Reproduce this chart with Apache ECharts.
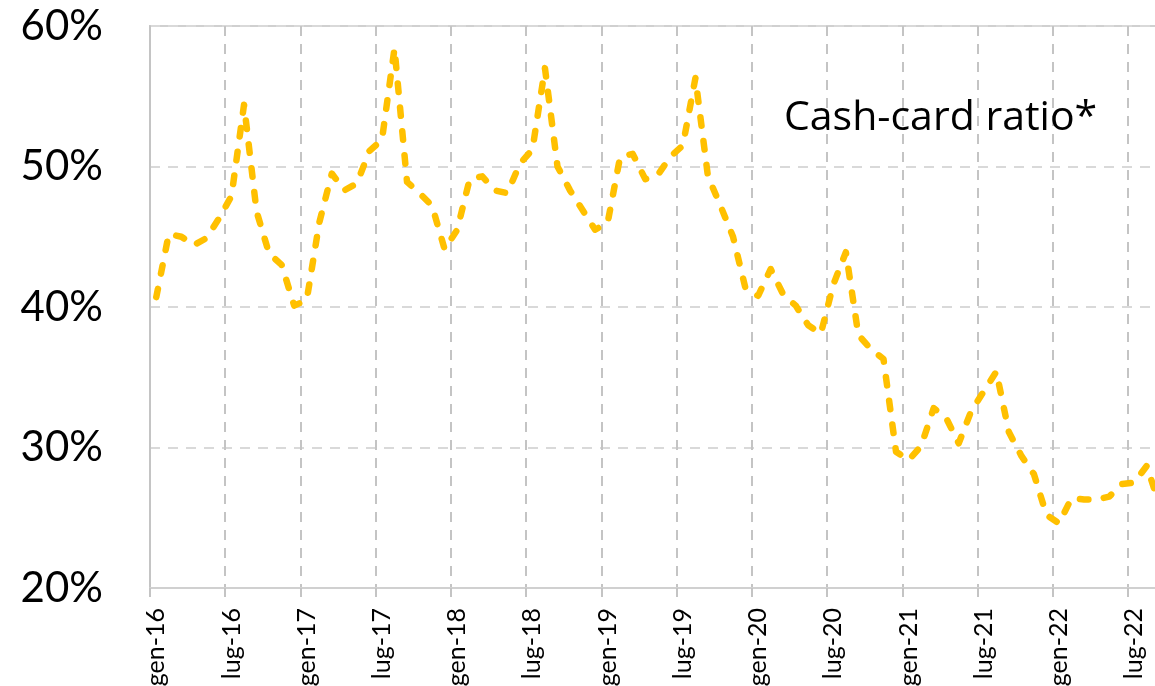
<!DOCTYPE html>
<html>
<head>
<meta charset="utf-8">
<script src="https://cdn.jsdelivr.net/npm/echarts@6/dist/echarts.min.js"></script>
<style>
html,body{margin:0;padding:0;background:#fff;overflow:hidden;}
#chart{width:1155px;height:686px;}
</style>
</head>
<body>
<div id="chart"></div>
<script>
// Monthly categories gen-16 .. set-22 (Italian month abbreviations)
const months = ['gen','feb','mar','apr','mag','giu','lug','ago','set','ott','nov','dic'];
const years = ['16','17','18','19','20','21','22'];
const categories = [];
for (const y of years) for (const m of months) categories.push(m + '-' + y);
categories.length = 81; // through set-22

// Cash-card ratio (%)
const ratio2016 = [40.7, 45.2, 45.0, 44.4, 44.9, 46.3, 47.9, 54.4, 46.8, 43.8, 43.0, 40.1];
const ratio2017 = [40.5, 46.0, 49.5, 48.3, 48.8, 51.1, 51.9, 58.4, 48.9, 48.1, 47.2, 44.1];
const ratio2018 = [45.5, 49.1, 49.3, 48.3, 48.1, 50.2, 51.2, 57.0, 50.0, 48.3, 46.9, 45.5];
const ratio2019 = [46.0, 50.7, 50.9, 49.1, 49.4, 50.7, 51.5, 56.3, 49.3, 47.2, 45.0, 41.3];
const ratio2020 = [40.8, 42.7, 40.9, 40.1, 38.7, 38.1, 41.6, 43.9, 38.0, 37.0, 36.3, 29.7];
const ratio2021 = [29.1, 30.1, 32.8, 32.1, 30.3, 32.6, 34.0, 35.4, 31.1, 29.4, 28.1, 25.2];
const ratio2022 = [24.6, 26.4, 26.3, 26.3, 26.5, 27.4, 27.5, 28.7, 25.9];
const ratio = [].concat(ratio2016, ratio2017, ratio2018, ratio2019, ratio2020, ratio2021, ratio2022);

const yTicks = { min: 20, max: 60, interval: 10 };
const titleText = 'Cash-card ratio*';

const chart = echarts.init(document.getElementById('chart'), null, { renderer: 'canvas' });
chart.setOption({
  animation: false,
  backgroundColor: '#ffffff',
  title: {
    text: titleText,
    left: 779,
    top: 93,
    textStyle: { fontFamily: 'Open Sans', fontSize: 41, fontWeight: 'normal', color: '#000000' }
  },
  grid: {
    left: 150, top: 26, bottom: 98, width: 1015.6,
    outerBoundsMode: 'none', containLabel: false,
    show: true, borderColor: '#d0d0d0', borderWidth: 2, backgroundColor: 'transparent'
  },
  xAxis: {
    type: 'category',
    data: categories,
    boundaryGap: true,
    axisLine: { show: true, lineStyle: { color: '#d0d0d0', width: 2 } },
    axisTick: { show: true, interval: 5, length: 9, lineStyle: { color: '#c4c4c4', width: 2 } },
    axisLabel: {
      interval: 5, rotate: 90, margin: 20,
      fontFamily: 'Lato', fontSize: 25, color: '#000000'
    },
    splitLine: { show: true, interval: 5, lineStyle: { color: '#c4c4c4', width: 2, type: [10, 8] } }
  },
  yAxis: {
    type: 'value',
    min: yTicks.min, max: yTicks.max, interval: yTicks.interval,
    axisLine: { show: true, lineStyle: { color: '#c4c4c4', width: 2 } },
    axisTick: { show: false },
    axisLabel: {
      formatter: '{value}%', margin: 47,
      fontFamily: 'Lato', fontSize: 42, color: '#000000'
    },
    splitLine: { show: true, lineStyle: { color: '#d9d9d9', width: 2, type: [10, 8] } }
  },
  series: [{
    type: 'line',
    data: ratio,
    symbol: 'none',
    smooth: false,
    lineStyle: { color: '#FFC000', width: 6.5, type: [8.5, 15.5], cap: 'round', join: 'round' }
  }]
});
</script>
</body>
</html>
